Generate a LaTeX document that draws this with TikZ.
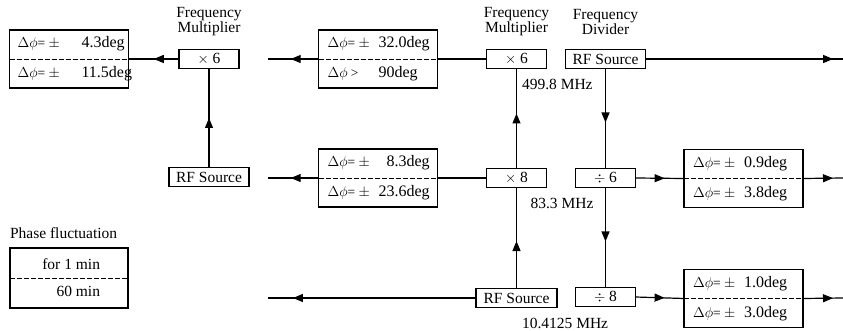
\documentclass[tikz,border=0pt]{standalone}
\usepackage{fontspec}
\setmainfont{Liberation Serif}
\usetikzlibrary{arrows.meta,decorations.markings}
\newcommand\vvtext[3]{\makebox[#1][l]{\fontsize{13.5}{13.5}\selectfont #2}#3}
\begin{document}
\begin{tikzpicture}[x=1pt,y=-1pt,
  every node/.style={inner sep=0pt, outer sep=0pt},
  valbox/.style={draw, line width=1.3pt, minimum width=119pt, minimum height=58pt},
  smallbox/.style={draw, line width=1.3pt, minimum width=60pt, minimum height=19pt, font=\fontsize{15.5}{16}\selectfont},
  rfbox/.style={smallbox, minimum width=80pt},
  lbl/.style={font=\fontsize{15.5}{15}\selectfont, align=center},
  vtext/.style={font=\fontsize{16}{16}\selectfont, anchor=west},
  midline/.style={line width=0.6pt, dash pattern=on 5pt off 2pt},
  conn/.style={line width=1.2pt},
  arr/.style={conn, postaction=decorate, decoration={markings, mark=at position #1 with {\arrow{Triangle[length=10pt,width=8pt]}}}},
]
\useasboundingbox (0,0) rectangle (843,331);

% ---------- left group ----------
\node[valbox] (b1) at (69,59) {};
\draw[midline] (b1.west) -- (b1.east);
\node[vtext] (b1u) at ([xshift=8pt,yshift=15pt]b1.west) {\vvtext{64pt}{$\Delta\phi$= $\pm$}{4.3deg}};
\node[vtext] (b1l) at ([xshift=8pt,yshift=-15pt]b1.west) {\vvtext{64pt}{$\Delta\phi$= $\pm$}{11.5deg}};

\node[smallbox] (m1) at (209,59) {$\times$ 6};
\node[lbl] (m1lbl) at (209,22) {Frequency\\Multiplier};
\node[rfbox] (rfa) at (209,177) {RF Source};

\draw[arr=0.5] (m1.west) -- (b1.east);
\draw[arr=0.5] (rfa.north) -- (m1.south);

% ---------- legend ----------
\node[lbl, anchor=west] (lgt) at (10,233) {Phase fluctuation};
\node[draw, line width=1.3pt, minimum width=118pt, minimum height=60pt] (lg) at (69,278) {};
\draw[midline] (lg.west) -- (lg.east);
\node[lbl, anchor=east] (lgu) at ([xshift=-28pt,yshift=14pt]lg.east) {for 1 min};
\node[lbl, anchor=east] (lgl) at ([xshift=-28pt,yshift=-13pt]lg.east) {60 min};

% ---------- middle group ----------
\coordinate (e1) at (268,59);
\coordinate (e2) at (268,178);
\coordinate (e3) at (268,298);

\node[valbox] (b2) at (378,59) {};
\draw[midline] (b2.west) -- (b2.east);
\node[vtext] (b2u) at ([xshift=9pt,yshift=15pt]b2.west) {\vvtext{51pt}{$\Delta\phi$= $\pm$}{32.0deg}};
\node[vtext] (b2l) at ([xshift=9pt,yshift=-15pt]b2.west) {\vvtext{51pt}{$\Delta\phi$ >}{90deg}};

\node[valbox] (b4) at (378,178) {};
\draw[midline] (b4.west) -- (b4.east);
\node[vtext] (b4u) at ([xshift=9pt,yshift=15pt]b4.west) {\vvtext{51pt}{$\Delta\phi$= $\pm$}{\phantom{0}8.3deg}};
\node[vtext] (b4l) at ([xshift=9pt,yshift=-15pt]b4.west) {\vvtext{51pt}{$\Delta\phi$= $\pm$}{23.6deg}};

\node[smallbox] (m2) at (516.5,59) {$\times$ 6};
\node[lbl] (m2lbl) at (516.5,22) {Frequency\\Multiplier};
\node[smallbox] (m3) at (516.5,178) {$\times$ 8};
\node[rfbox, minimum width=81pt] (rfb) at (516.5,298) {RF Source};

\node[lbl, anchor=west] (f1) at (522,84) {499.8 MHz};
\node[lbl] (f2) at (562,203) {83.3 MHz};
\node[lbl, anchor=west] (f3) at (522,323) {10.4125 MHz};

\draw[arr=0.55] (b2.west) -- (e1);
\draw[conn] (b2.east) -- (m2.west);
\draw[arr=0.55] (b4.west) -- (e2);
\draw[conn] (m3.west) -- (b4.east);
\draw[arr=0.55] (m3.north) -- (m2.south);
\draw[arr=0.47] (rfb.north) -- (m3.south);
\draw[arr=0.88] (rfb.west) -- (e3);

% ---------- right group ----------
\coordinate (r1) at (843,59);
\coordinate (r2) at (843,178);
\coordinate (r3) at (843,298);

\node[rfbox] (rfc) at (605.5,59) {RF Source};
\node[lbl] (dlbl) at (605.5,22) {Frequency\\Divider};
\node[smallbox] (d6) at (605.5,178) {$\div$ 6};
\node[smallbox] (d8) at (605.5,297) {$\div$ 8};

\node[valbox] (b3) at (743.5,178.5) {};
\draw[midline] (b3.west) -- (b3.east);
\node[vtext] (b3u) at ([xshift=9pt,yshift=15pt]b3.west) {\vvtext{51pt}{$\Delta\phi$= $\pm$}{0.9deg}};
\node[vtext] (b3l) at ([xshift=9pt,yshift=-15pt]b3.west) {\vvtext{51pt}{$\Delta\phi$= $\pm$}{3.8deg}};

\node[valbox] (b5) at (743.5,298.5) {};
\draw[midline] (b5.west) -- (b5.east);
\node[vtext] (b5u) at ([xshift=9pt,yshift=15pt]b5.west) {\vvtext{51pt}{$\Delta\phi$= $\pm$}{1.0deg}};
\node[vtext] (b5l) at ([xshift=9pt,yshift=-15pt]b5.west) {\vvtext{51pt}{$\Delta\phi$= $\pm$}{3.0deg}};

\draw[arr=0.95] (rfc.east) -- (r1);
\draw[arr=0.54] (rfc.south) -- (d6.north);
\draw[arr=0.54] (d6.south) -- (d8.north);
\draw[arr=0.6] (d6.east) -- (b3.west);
\draw[arr=0.6] (d8.east) -- (b5.west);
\draw[arr=0.75] (b3.east) -- (r2);
\draw[arr=0.75] (b5.east) -- (r3);
\end{tikzpicture}
\end{document}
